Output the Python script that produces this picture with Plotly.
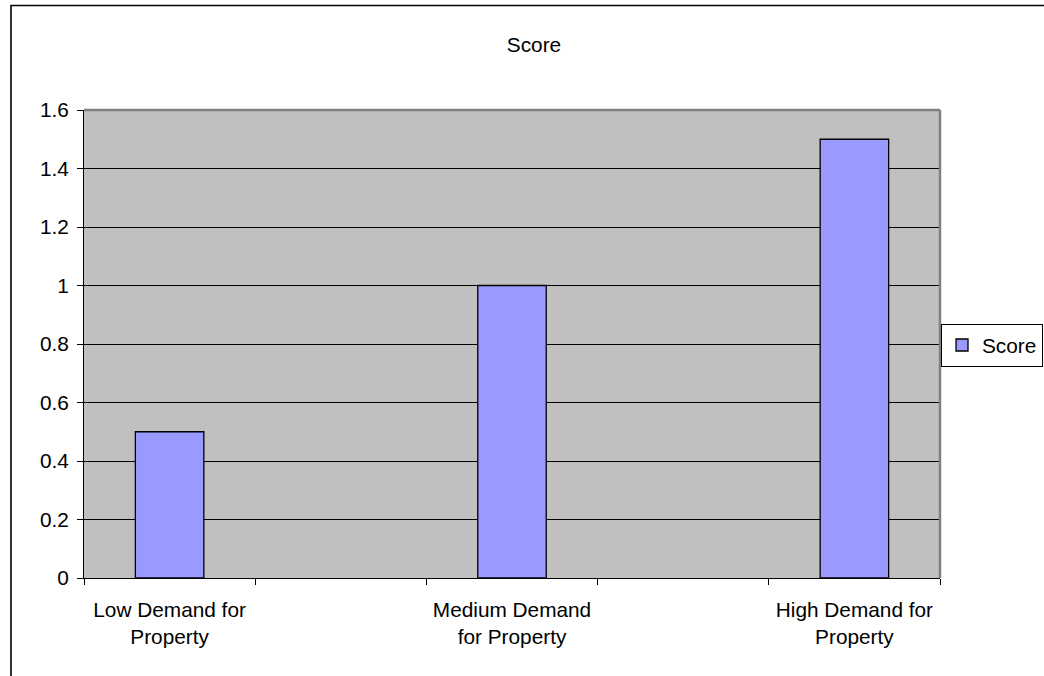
import plotly.graph_objects as go

# Category slots (blank slots keep the Excel-style spacing between groups)
categories = [
    "Low Demand for<br>Property",
    " ",
    "Medium Demand<br>for Property",
    "  ",
    "High Demand for<br>Property",
]
score = [0.5, None, 1.0, None, 1.5]
series_name = "Score"

W, H = 1044, 676
L, R, T, B = 84, 940, 110, 578  # plot area in pixels

FONT = dict(family="Liberation Sans, Arial, sans-serif", size=20.8, color="black")

fig = go.Figure(
    go.Bar(
        x=categories,
        y=score,
        name=series_name,
        width=0.4,
        marker=dict(color="#9999FF", line=dict(color="black", width=1.3)),
        showlegend=True,
    )
)


def px_x(p):
    return (p - L) / (R - L)


def px_y(p):
    return (B - p) / (B - T)


fig.update_layout(
    width=W,
    height=H,
    margin=dict(l=L, r=W - R, t=T, b=H - B, autoexpand=False),
    paper_bgcolor="white",
    plot_bgcolor="#C0C0C0",
    font=FONT,
    title=dict(
        text="Score",
        x=534 / W,
        xref="container",
        xanchor="center",
        y=1 - 45 / H,
        yanchor="middle",
        font=FONT,
    ),
    bargap=0.6,
    showlegend=True,
    legend=dict(
        x=px_x(941),
        y=px_y(324),
        xanchor="left",
        yanchor="top",
        bgcolor="white",
        bordercolor="black",
        borderwidth=1,
        font=FONT,
        itemwidth=30,
    ),
    xaxis=dict(
        type="category",
        categoryorder="array",
        categoryarray=categories,
        range=[-0.5, 4.5],
        tickson="boundaries",
        ticks="outside",
        ticklen=6,
        tickcolor="black",
        showline=True,
        linecolor="black",
        linewidth=1,
        showgrid=False,
        tickfont=FONT,
        ticklabelstandoff=13,
        fixedrange=True,
    ),
    yaxis=dict(
        range=[0, 1.6],
        dtick=0.2,
        tick0=0,
        ticks="outside",
        ticklen=6,
        tickcolor="black",
        showline=True,
        linecolor="black",
        linewidth=1,
        showgrid=True,
        gridcolor="black",
        gridwidth=1,
        zeroline=False,
        tickfont=FONT,
        ticklabelstandoff=4,
        fixedrange=True,
    ),
    shapes=[
        # plot-area frame: top and right edges
        dict(type="line", xref="paper", yref="paper", x0=0, x1=1, y0=1, y1=1,
             line=dict(color="#808080", width=2.5)),
        dict(type="line", xref="paper", yref="paper", x0=1, x1=1, y0=0, y1=1,
             line=dict(color="#808080", width=2.5)),
        # chart-area border
        dict(type="rect", xref="paper", yref="paper",
             x0=px_x(11), x1=px_x(1070), y0=px_y(700), y1=px_y(5.5),
             line=dict(color="black", width=1.6), fillcolor="rgba(0,0,0,0)"),
    ],
)

fig.write_html("out.html")
